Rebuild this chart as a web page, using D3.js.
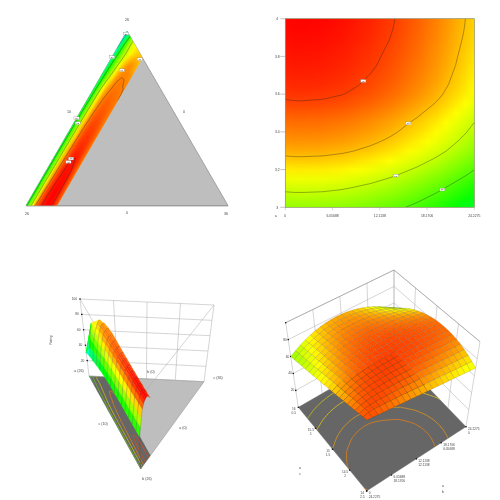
<!DOCTYPE html>
<html><head><meta charset="utf-8">
<style>html,body{margin:0;background:#fff}svg{display:block;filter:blur(.3px)}text{font-family:"Liberation Sans",Arial,sans-serif;fill:#444}</style>
<script src="https://cdnjs.cloudflare.com/ajax/libs/d3/7.8.5/d3.min.js"></script>
</head><body><svg id="c" width="500" height="500"></svg>
<script>
// response: rows bottom to top, columns left to right
const contourRows = [
[60.7,60.9,60.9,60.8,60.7,60.4,60.1,59.6,59.0,58.4,57.6,56.8,55.8,54.7,53.6,52.3,51.0,49.5,47.9,46.3,44.5],
[63.3,63.5,63.5,63.4,63.3,63.0,62.7,62.2,61.6,61.0,60.2,59.4,58.4,57.3,56.2,54.9,53.6,52.1,50.5,48.9,47.1],
[65.9,66.1,66.1,66.0,65.9,65.6,65.3,64.8,64.2,63.6,62.8,62.0,61.0,59.9,58.8,57.5,56.2,54.7,53.1,51.5,49.7],
[68.6,68.8,68.8,68.7,68.6,68.3,68.0,67.5,66.9,66.3,65.5,64.7,63.7,62.6,61.5,60.2,58.9,57.4,55.8,54.2,52.4],
[71.3,71.5,71.5,71.4,71.3,71.0,70.7,70.2,69.6,69.0,68.2,67.4,66.4,65.3,64.2,62.9,61.6,60.1,58.5,56.9,55.1],
[73.9,74.1,74.1,74.0,73.9,73.6,73.3,72.8,72.2,71.6,70.8,70.0,69.0,67.9,66.8,65.5,64.2,62.7,61.1,59.5,57.7],
[76.3,76.5,76.5,76.4,76.3,76.0,75.7,75.2,74.6,74.0,73.2,72.4,71.4,70.3,69.2,67.9,66.6,65.1,63.5,61.9,60.1],
[78.2,78.4,78.4,78.3,78.2,77.9,77.6,77.1,76.5,75.9,75.1,74.3,73.3,72.2,71.1,69.8,68.5,67.0,65.4,63.8,62.0],
[79.8,80.0,80.0,79.9,79.8,79.5,79.2,78.7,78.1,77.5,76.7,75.9,74.9,73.8,72.7,71.4,70.1,68.6,67.0,65.4,63.6],
[81.2,81.4,81.4,81.3,81.2,80.9,80.6,80.1,79.5,78.9,78.1,77.3,76.3,75.2,74.1,72.8,71.5,70.0,68.4,66.8,65.0],
[82.8,83.0,83.0,82.9,82.8,82.5,82.2,81.7,81.1,80.5,79.7,78.9,77.9,76.8,75.7,74.4,73.1,71.6,70.0,68.4,66.6],
[84.4,84.6,84.6,84.5,84.4,84.1,83.8,83.3,82.7,82.1,81.3,80.5,79.5,78.4,77.3,76.0,74.7,73.2,71.6,70.0,68.2],
[85.7,85.9,85.9,85.8,85.7,85.4,85.1,84.6,84.0,83.4,82.6,81.8,80.8,79.7,78.6,77.3,76.0,74.5,72.9,71.3,69.5],
[86.6,86.8,86.8,86.7,86.6,86.3,86.0,85.5,84.9,84.3,83.5,82.7,81.7,80.6,79.5,78.2,76.9,75.4,73.8,72.2,70.4],
[87.2,87.4,87.4,87.3,87.2,86.9,86.6,86.1,85.5,84.9,84.1,83.3,82.3,81.2,80.1,78.8,77.5,76.0,74.4,72.8,71.0],
[87.8,88.0,88.0,87.9,87.8,87.5,87.2,86.7,86.1,85.5,84.7,83.9,82.9,81.8,80.7,79.4,78.1,76.6,75.0,73.4,71.6],
[88.2,88.4,88.4,88.3,88.2,87.9,87.6,87.1,86.5,85.9,85.1,84.3,83.3,82.2,81.1,79.8,78.5,77.0,75.4,73.8,72.0],
[88.6,88.8,88.8,88.7,88.6,88.3,88.0,87.5,86.9,86.3,85.5,84.7,83.7,82.6,81.5,80.2,78.9,77.4,75.8,74.2,72.4],
[89.0,89.2,89.2,89.1,89.0,88.7,88.4,87.9,87.3,86.7,85.9,85.1,84.1,83.0,81.9,80.6,79.3,77.8,76.2,74.6,72.8],
[89.3,89.5,89.5,89.4,89.3,89.0,88.7,88.2,87.6,87.0,86.2,85.4,84.4,83.3,82.2,80.9,79.6,78.1,76.5,74.9,73.1],
[89.5,89.7,89.7,89.6,89.5,89.2,88.9,88.4,87.8,87.2,86.4,85.6,84.6,83.5,82.4,81.1,79.8,78.3,76.7,75.1,73.3]];
// response: rows from the back-left edge towards the front-right edge
const domeRows = [
[60.0,63.8,67.2,70.2,72.7,74.8,76.4,77.6,78.3,78.6,78.5,77.9,76.9,75.5,73.6,71.3,68.5,65.3,61.6,57.5,53.0],
[61.3,65.1,68.4,71.3,73.8,75.8,77.4,78.5,79.3,79.6,79.5,79.1,78.2,77.0,75.4,73.4,71.0,68.3,65.2,61.8,58.0],
[62.6,66.4,69.6,72.5,74.8,76.8,78.3,79.5,80.2,80.6,80.5,80.2,79.5,78.4,77.0,75.3,73.4,71.1,68.5,65.6,62.5],
[63.9,67.6,70.8,73.6,75.9,77.8,79.3,80.4,81.1,81.5,81.5,81.2,80.6,79.8,78.6,77.2,75.5,73.6,71.5,69.2,66.6],
[65.2,68.9,72.0,74.7,77.0,78.8,80.2,81.3,82.0,82.3,82.4,82.2,81.8,81.0,80.1,78.9,77.6,76.0,74.3,72.3,70.3],
[66.5,70.1,73.2,75.9,78.0,79.7,81.1,82.1,82.8,83.2,83.3,83.2,82.8,82.2,81.4,80.5,79.4,78.1,76.7,75.2,73.5],
[67.8,71.4,74.4,77.0,79.0,80.7,82.0,82.9,83.6,84.0,84.1,84.0,83.8,83.3,82.7,81.9,81.0,80.0,78.8,77.6,76.3],
[69.1,72.7,75.6,78.0,80.0,81.6,82.8,83.7,84.3,84.7,84.9,84.8,84.6,84.2,83.7,83.1,82.4,81.6,80.7,79.7,78.6],
[70.4,73.9,76.8,79.1,81.0,82.5,83.6,84.4,85.0,85.4,85.5,85.5,85.4,85.1,84.7,84.2,83.6,82.9,82.2,81.4,80.5],
[71.7,75.1,77.9,80.2,81.9,83.3,84.3,85.1,85.6,85.9,86.1,86.1,86.0,85.7,85.4,85.0,84.5,83.9,83.3,82.7,82.0],
[73.0,76.4,79.1,81.2,82.8,84.1,85.0,85.7,86.2,86.4,86.6,86.5,86.4,86.2,85.9,85.6,85.1,84.7,84.1,83.6,83.0],
[74.3,77.6,80.2,82.2,83.7,84.8,85.6,86.2,86.6,86.8,86.9,86.8,86.7,86.5,86.2,85.9,85.5,85.1,84.6,84.1,83.6],
[75.6,78.9,81.3,83.1,84.5,85.4,86.1,86.6,86.9,87.0,87.1,87.0,86.8,86.6,86.3,85.9,85.6,85.1,84.7,84.2,83.7],
[76.9,80.1,82.3,84.0,85.2,86.0,86.5,86.9,87.1,87.1,87.0,86.9,86.7,86.4,86.1,85.7,85.3,84.9,84.4,83.9,83.4],
[78.2,81.3,83.4,84.8,85.8,86.4,86.8,87.0,87.0,87.0,86.8,86.6,86.3,86.0,85.6,85.2,84.7,84.2,83.7,83.2,82.7],
[79.5,82.4,84.3,85.6,86.2,86.7,86.9,86.9,86.8,86.6,86.3,86.0,85.6,85.2,84.7,84.2,83.7,83.2,82.6,82.1,81.5],
[80.8,83.6,85.1,86.0,86.5,86.7,86.7,86.5,86.3,85.9,85.5,85.1,84.6,84.1,83.5,83.0,82.4,81.8,81.1,80.5,79.9],
[82.1,84.6,85.8,86.3,86.5,86.4,86.1,85.8,85.4,84.9,84.3,83.8,83.2,82.5,81.9,81.3,80.6,79.9,79.2,78.5,77.8],
[83.4,85.5,86.2,86.3,86.0,85.6,85.2,84.6,84.0,83.3,82.7,82.0,81.3,80.6,79.8,79.1,78.3,77.6,76.8,76.1,75.3],
[84.7,86.1,86.0,85.5,84.9,84.2,83.5,82.8,82.0,81.2,80.4,79.6,78.9,78.1,77.2,76.4,75.6,74.8,74.0,73.2,72.4],
[86.0,85.2,84.3,83.4,82.6,81.8,80.9,80.0,79.2,78.4,77.5,76.7,75.8,75.0,74.1,73.3,72.4,71.5,70.7,69.8,69.0]];
// response behind the contour lines on the floor of the 3D surface plot
const floorRows = [
[60,61.9,63.2,63.9,63.9,63,61.8,60,57.5,54.5,51],
[65,66.9,68.2,68.9,68.9,68,66.8,65,62.5,59.5,56],
[69.4,71.3,72.6,73.3,73.3,72.4,71.2,69.4,66.9,63.9,60.4],
[73.1,75,76.3,77,77,76.1,74.9,73.1,70.6,67.6,64.1],
[76.2,78.1,79.4,80.1,80.1,79.2,78,76.2,73.7,70.7,67.2],
[78.7,80.6,81.9,82.6,82.6,81.7,80.5,78.7,76.2,73.2,69.7],
[80.6,82.5,83.8,84.5,84.5,83.6,82.4,80.6,78.1,75.1,71.6],
[81.8,83.7,85,85.7,85.7,84.8,83.6,81.8,79.3,76.3,72.8],
[82.4,84.3,85.6,86.3,86.3,85.4,84.2,82.4,79.9,76.9,73.4],
[82.4,84.3,85.6,86.3,86.3,85.4,84.2,82.4,79.9,76.9,73.4],
[81.8,83.7,85,85.7,85.7,84.8,83.6,81.8,79.3,76.3,72.8]];
// response in the feasible strip of the ternary plot: rows from the b-side base to the a apex, columns across the strip
const stripRows = [
[46,58,69,80,85,88,89.5,90,89,86,82],
[46,57,68,79,85,88,89.5,90,88.8,85.5,81.5],
[46,57,68,78,84.5,87.5,89,89.5,88.5,85,81],
[46,56,67,77,83.5,87,88.6,89,88,84.5,80.5],
[46,56,66.5,76,82.5,86,87.9,88.1,87,84,80.3],
[46,55.5,66,75,81.5,85,86.5,86.8,86,83.5,80.2],
[45.5,55,65.5,74,80.5,84,85.5,85.8,85,83,80.1],
[45,54.5,65,73.5,79.5,83,84.3,84.5,84,82,80],
[45,54,64.5,72.5,78.5,82,83,83.3,82.8,81.5,80],
[44,53,63.5,71.5,77.5,80.5,82,82.2,81.8,81,80],
[43,52,62.5,70.5,76,79,80.6,81,80.8,80.2,79.8],
[41,50,59,66,72,77,79.5,80,79.8,79,78],
[39,49,56,63,69,74,77,79,78.5,77,75],
[36,46,55,61,66,69,72,73.5,74,74,74],
[34,43,53,62,66,69,70,71,71,71,71],
[30,38,47,56,62,66,68,69,69,69,69]];
const colorStops = [10,30,48,70,90];
const colorNames = ['#0000ff','#00ffff','#00ff00','#ffff00','#ff0000'];
const domeStops = [45,72,92];
const domeNames = ['#00ff00','#ffff00','#ff0000'];
const ternaryLevels = [35,50,65,80,88];
const factorialLevels = [55,65,75,85];
const floorLevels = [66.5,72,78.7,82];
const xTicks = [0,6.05688,12.1138,18.1706,24.2275];
const xTickText = ['0','6.05688','12.1138','18.1706','24.2275'];
const yTicks = [3,3.2,3.4,3.6,3.8,4];
const zTicks = [20,40,60,80,100];
const factorialLabels = [[10.0,3.67,'85'],[15.75,3.445,'75'],[14.15,3.168,'65'],[20.1,3.094,'55']];
const ternaryLabels = [[0.02,0.985,'35'],[0.01,0.85,'50'],[0,0.5,'50'],[0.13,0.472,'65'],[0.93,0.838,'70'],[0.56,0.775,'80'],[0.57,0.269,'88'],[0.55,0.25,'88']];
const sideLeftA = ['16','15.5','15','14.5','14'];
const sideLeftB = ['0.5','1','1.5','2','2.5'];
const sideRightA = ['0','6.05688','12.1138','18.1706','24.2275'];
const sideRightB = ['24.2275','18.1706','12.1138','6.05688','0'];

const svg = d3.select('#c');
const color = d3.scaleLinear().domain(colorStops).range(colorNames).clamp(true);
const domeColor = d3.scaleLinear().domain(domeStops).range(domeNames).clamp(true);
const flat = r => r.flat();
const nS = contourRows[0].length, mS = contourRows.length, nT = stripRows[0].length, mT = stripRows.length;
const txt = (g,x,y,s,size=3.6,anchor='middle') => g.append('text').attr('x',x).attr('y',y).attr('font-size',size).attr('text-anchor',anchor).text(s);

// unclosed contour pieces, in grid index units
function contourPieces(rows, levels){
  const n=rows[0].length, m=rows.length, out=[];
  d3.contours().size([n,m]).thresholds(levels)(flat(rows)).forEach(c=>{
    c.coordinates.forEach(poly=>poly.forEach(ring=>{
      const pts=ring.slice(0,-1), border=p=>p[0]<=0||p[0]>=n||p[1]<=0||p[1]>=m;
      if(!pts.length) return;
      if(!pts.some(border)){out.push({level:c.value,closed:true,pts:pts.map(p=>[p[0]-.5,p[1]-.5])});return;}
      let s=pts.findIndex(border), cur=[];
      for(let k=1;k<=pts.length;k++){
        const p=pts[(s+k)%pts.length];
        if(border(p)){ if(cur.length>1) out.push({level:c.value,closed:false,pts:cur}); cur=[]; }
        else cur.push([p[0]-.5,p[1]-.5]);
      }
    }));
  });
  return out;
}
function linePath(piece, proj){
  const l=d3.line().curve(piece.closed?d3.curveCatmullRomClosed:d3.curveCatmullRom);
  return l(piece.pts.map(proj));
}
function gridImage(rows){
  const n=rows[0].length,m=rows.length,cv=document.createElement('canvas');cv.width=n;cv.height=m;
  const ctx=cv.getContext('2d');
  rows.forEach((r,j)=>r.forEach((v,i)=>{ctx.fillStyle=color(v);ctx.fillRect(i,m-1-j,1,1);}));
  return cv.toDataURL();
}
const defs=svg.append('defs');

/* ---------- top left: ternary contour ---------- */
const A=[127,31],B=[26,205.5],C=[228,205.5],stripW=31.3;
const stripXY=(s,t)=>[B[0]+stripW*s+(A[0]-B[0])*t, B[1]+(A[1]-B[1])*t];
const tBreak=1-stripW/(2*(A[0]-B[0]));
const g1=svg.append('g');
g1.append('polygon').attr('points',[A,B,C].join(' ')).attr('fill','#bebebe').attr('stroke','#8a8a8a').attr('stroke-width',.7);
g1.append('line').attr('x1',B[0]).attr('y1',B[1]+.4).attr('x2',C[0]).attr('y2',C[1]+.4).attr('stroke','#999').attr('stroke-width',1);
defs.append('clipPath').attr('id','strip').append('polygon')
  .attr('points',[A,stripXY(1,tBreak),stripXY(1,0),B].join(' '));
const gs=g1.append('g').attr('clip-path','url(#strip)');
const ds=1/(nT-1), dt=1/(mT-1);
gs.append('image').attr('href',gridImage(stripRows)).attr('preserveAspectRatio','none')
  .attr('x',-ds/2).attr('y',-(1+dt/2)).attr('width',1+ds).attr('height',1+dt)
  .attr('transform',`matrix(${stripW} 0 ${-(A[0]-B[0])} ${B[1]-A[1]} ${B[0]} ${B[1]})`);
const stripPieces=contourPieces(stripRows,ternaryLevels);
const stripProj=p=>stripXY(p[0]*ds,p[1]*dt);
gs.selectAll('path').data(stripPieces).join('path').attr('d',d=>linePath(d,stripProj))
  .attr('fill','none').attr('stroke','#222').attr('stroke-opacity',.6).attr('stroke-width',.6);
function labelBox(g,x,y,s){
  g.append('rect').attr('x',x-2.6).attr('y',y-1.4).attr('width',5.2).attr('height',2.8).attr('fill','#fff').attr('stroke','#777').attr('stroke-width',.3);
  txt(g,x,y+.9,s,2.4);
}
ternaryLabels.forEach(d=>{const p=stripXY(d[0],d[1]);labelBox(g1,p[0],p[1],d[2]);});
[[127,21,'26'],[27,215,'26'],[127,214,'0'],[226,215,'36'],[69,113,'10'],[184,113,'0']].forEach(d=>txt(g1,d[0],d[1],d[2]));

/* ---------- top right: factorial contour ---------- */
const x2=d3.scaleLinear().domain([0,24.2275]).range([285.3,474.3]);
const y2=d3.scaleLinear().domain([3,4]).range([207.3,18.7]);
const col2=d3.scaleLinear().domain([0,nS-1]).range([0,24.2275]);
const row2=d3.scaleLinear().domain([0,mS-1]).range([3,4]);
const g2=svg.append('g');
defs.append('clipPath').attr('id','frame2').append('rect').attr('x',x2(0)).attr('y',y2(4)).attr('width',x2(24.2275)-x2(0)).attr('height',y2(3)-y2(4));
const g2c=g2.append('g').attr('clip-path','url(#frame2)');
g2c.append('image').attr('href',gridImage(contourRows)).attr('preserveAspectRatio','none')
  .attr('x',x2(col2(-.5))).attr('y',y2(row2(mS-.5))).attr('width',x2(col2(nS-.5))-x2(col2(-.5))).attr('height',y2(row2(-.5))-y2(row2(mS-.5)));
g2c.selectAll('path').data(contourPieces(contourRows,factorialLevels)).join('path').attr('d',d=>linePath(d,p=>[x2(col2(p[0])),y2(row2(p[1]))]))
  .attr('fill','none').attr('stroke','#222').attr('stroke-opacity',.6).attr('stroke-width',.6);
g2.append('rect').attr('x',x2(0)).attr('y',y2(4)).attr('width',x2(24.2275)-x2(0)).attr('height',y2(3)-y2(4)).attr('fill','none').attr('stroke','#8a8a60').attr('stroke-width',.7);
factorialLabels.forEach(d=>labelBox(g2,x2(d[0]),y2(d[1]),d[2]));
yTicks.forEach(v=>{g2.append('line').attr('x1',x2(0)-5).attr('x2',x2(0)).attr('y1',y2(v)).attr('y2',y2(v)).attr('stroke','#888').attr('stroke-width',.5);txt(g2,x2(0)-8,y2(v)+1.3,v,3.4);});
xTicks.forEach((v,i)=>{g2.append('line').attr('x1',x2(v)).attr('x2',x2(v)).attr('y1',y2(3)).attr('y2',y2(3)+3).attr('stroke','#999').attr('stroke-width',.4);txt(g2,x2(v),216.5,xTickText[i],3.4);});
txt(g2,276,217,'a',3.4);

/* ---------- bottom left: 3D ternary ---------- */
const fA=[89,376],fB=[140.7,469],fC=[204,381.7],tA=[80,299],tB=[138.3,400],tC=[214,305];
const zUnit=d3.scaleLinear().domain([0,100]).range([0,1]);
function proj3(wa,wb,wc,z){
  const k=zUnit(z);
  return [0,1].map(d=>wa*(fA[d]+k*(tA[d]-fA[d]))+wb*(fB[d]+k*(tB[d]-fB[d]))+wc*(fC[d]+k*(tC[d]-fC[d])));
}
const cPerS=stripW/(C[0]-B[0]);
const stripTo3=(s,t,z)=>proj3(t,1-t-cPerS*s,cPerS*s,z);
const g3=svg.append('g');
g3.append('polygon').attr('points',[fA,fB,fC].join(' ')).attr('fill','#bebebe').attr('stroke','#8a8a8a').attr('stroke-width',.5);
const floorClip=[stripTo3(0,1,0),stripTo3(1,tBreak,0),stripTo3(1,0,0),stripTo3(0,0,0)];
g3.append('polygon').attr('points',floorClip.join(' ')).attr('fill','#666');
defs.append('clipPath').attr('id','strip3').append('polygon').attr('points',floorClip.join(' '));
g3.append('g').attr('clip-path','url(#strip3)').selectAll('path').data(stripPieces).join('path')
  .attr('d',d=>linePath(d,p=>stripTo3(p[0]*ds,p[1]*dt,0))).attr('fill','none')
  .attr('stroke',d=>d3.interpolateRgb(color(d.level),'#c08030')(.5)).attr('stroke-width',.8);
const wall3=g3.append('g').attr('stroke','#aaa').attr('stroke-width',.5).attr('fill','none');
const seg=(g,a,b)=>g.append('line').attr('x1',a[0]).attr('y1',a[1]).attr('x2',b[0]).attr('y2',b[1]);
[0,.25,.5,.75,1].forEach(f=>seg(wall3,proj3(1-f,0,f,0),proj3(1-f,0,f,100)));
zTicks.forEach(z=>seg(wall3,proj3(1,0,0,z),proj3(0,0,1,z)));
seg(wall3,tA,tB);seg(wall3,tC,tB);seg(wall3,fB,tB).attr('stroke','#555');
seg(wall3,proj3(1,0,0,0),proj3(0,0,1,0));
zTicks.forEach(z=>{const p=proj3(1,0,0,z);g3.append('circle').attr('cx',p[0]).attr('cy',p[1]).attr('r',.8).attr('fill','#111');txt(g3,p[0]-3,p[1]+1,z,3.2,'end');});
// surface: points beyond the triangle edge are pulled back onto it
const sMax=t=>t>tBreak?2*(1-t)*(A[0]-B[0])/stripW:1;
function stripPoint(i,j){
  const t=j*dt,lim=sMax(t);let ci=i;
  while(ci>0&&(ci-1)*ds>=lim) ci--;
  return {p:stripTo3(Math.min(i*ds,lim),t,stripRows[j][ci]),v:stripRows[j][ci]};
}
const surf3=g3.append('g');
for(let j=mT-2;j>=0;j--) for(let i=nT-2;i>=0;i--){
  const q=[stripPoint(i,j),stripPoint(i+1,j),stripPoint(i+1,j+1),stripPoint(i,j+1)];
  const c=color(d3.mean(q,d=>d.v));
  surf3.append('polygon').attr('points',q.map(d=>d.p).join(' ')).attr('fill',c).attr('stroke',c).attr('stroke-width',.25);
}
d3.range(mT).forEach(j=>{
  surf3.append('path').attr('d',d3.line().curve(d3.curveCatmullRom)(d3.range(nT).map(i=>stripPoint(i,j).p)))
    .attr('fill','none').attr('stroke','#222').attr('stroke-opacity',.55).attr('stroke-width',.35);
});
[[79,372,'a (26)'],[151,373,'b (0)'],[218,379,'c (36)'],[103,425,'c (10)'],[183,429,'a (0)'],[147,480,'b (26)']].forEach(d=>txt(g3,d[0],d[1],d[2],3.6));
g3.append('text').attr('transform','translate(51.5,340) rotate(-90)').attr('font-size',3.2).attr('text-anchor','middle').text('Rating');

/* ---------- bottom right: 3D surface ---------- */
const F={l:[298.3,407.3],b:[394,352],f:[366.7,491],r:[466,426.7]};
const T={l:[285.7,322.7],b:[394,270],f:[367,408.4],r:[480,341.7]};
function proj4(u,v,z){
  const k=zUnit(z);
  return [0,1].map(d=>{
    const fl=(1-u)*(1-v)*F.l[d]+u*(1-v)*F.b[d]+(1-u)*v*F.f[d]+u*v*F.r[d];
    const tp=(1-u)*(1-v)*T.l[d]+u*(1-v)*T.b[d]+(1-u)*v*T.f[d]+u*v*T.r[d];
    return fl+k*(tp-fl);
  });
}
const du=1/(nS-1),dv=1/(mS-1);
const g4=svg.append('g');
g4.append('polygon').attr('points',[F.l,F.f,F.r,F.b].join(' ')).attr('fill','#666').attr('stroke','#777').attr('stroke-width',.4);
const wall4=g4.append('g').attr('stroke','#aaa').attr('stroke-width',.5).attr('fill','none');
[0,.25,.5,.75,1].forEach(f=>{seg(wall4,proj4(f,0,0),proj4(f,0,100));seg(wall4,proj4(1,f,0),proj4(1,f,100));});
zTicks.forEach(z=>{seg(wall4,proj4(0,0,z),proj4(1,0,z));seg(wall4,proj4(1,0,z),proj4(1,1,z));});
seg(wall4,T.l,T.b).attr('stroke','#888');seg(wall4,T.b,T.r).attr('stroke','#888');
zTicks.forEach(z=>{const p=proj4(0,0,z);g4.append('circle').attr('cx',p[0]).attr('cy',p[1]).attr('r',.8).attr('fill','#111');if(z<100)txt(g4,p[0]-1.5,p[1]+1,z,3.2,'end');});
const fu=1/(floorRows[0].length-1),fv=1/(floorRows.length-1);
g4.append('g').selectAll('path').data(contourPieces(floorRows,floorLevels)).join('path')
  .attr('d',d=>linePath(d,p=>proj4(p[0]*fu,p[1]*fv,0))).attr('fill','none')
  .attr('stroke',d=>d3.interpolateRgb(domeColor(d.level),'#c08030')(.5)).attr('stroke-width',.8);
for(let i=nS-2;i>=0;i--) for(let j=0;j<mS-1;j++){
  const c=[[i,j],[i+1,j],[i+1,j+1],[i,j+1]];
  g4.append('polygon').attr('points',c.map(q=>proj4(q[0]*du,q[1]*dv,domeRows[q[1]][q[0]])).join(' '))
    .attr('fill',domeColor(d3.mean(c,q=>domeRows[q[1]][q[0]]))).attr('stroke','#3a2a00').attr('stroke-opacity',.45).attr('stroke-width',.3);
}
sideLeftA.forEach((s,k)=>{
  const p=proj4(0,k/4,0);
  g4.append('circle').attr('cx',p[0]).attr('cy',p[1]).attr('r',.8).attr('fill','#111');
  txt(g4,p[0]-4.5,p[1]+3,s,3.2);txt(g4,p[0]-4.5,p[1]+7,sideLeftB[k],3.2);
});
sideRightA.forEach((s,k)=>{
  const p=proj4(k/4,1,0);
  g4.append('circle').attr('cx',p[0]).attr('cy',p[1]).attr('r',.8).attr('fill','#111');
  txt(g4,p[0]+2,p[1]+3,s,3.2,'start');txt(g4,p[0]+2,p[1]+7,sideRightB[k],3.2,'start');
});
[[300,469,'a'],[300,475,'c'],[443,487,'a'],[443,493,'b']].forEach(d=>txt(g4,d[0],d[1],d[2],3.4));
</script></body></html>
